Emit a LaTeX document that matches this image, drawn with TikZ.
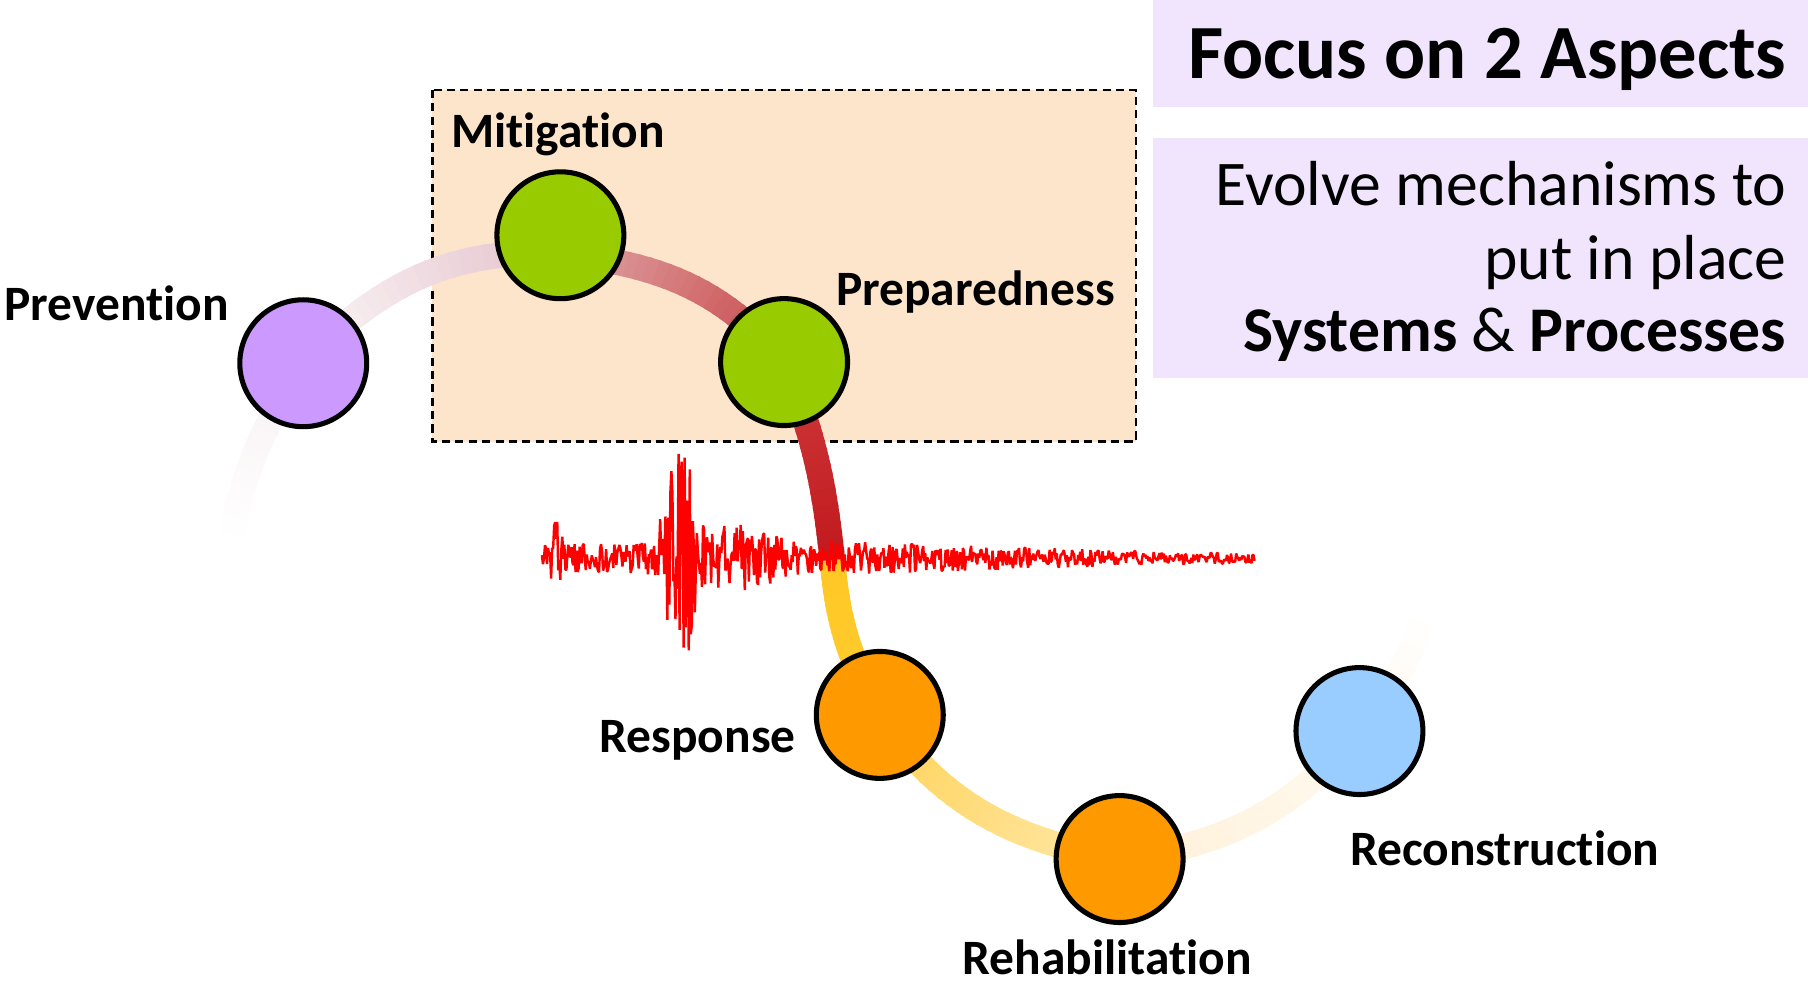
\documentclass[tikz,border=0pt]{standalone}
\usepackage{fontspec}
\setmainfont[Ligatures=NoCommon]{Carlito}
\usepackage{tikz}
\usetikzlibrary{backgrounds}
\definecolor{prevc}{HTML}{CC99FF}
\definecolor{greenc}{HTML}{99CC00}
\definecolor{orangec}{HTML}{FF9900}
\definecolor{bluec}{HTML}{99CCFF}
\definecolor{peach}{HTML}{FDE5CB}
\definecolor{lavender}{HTML}{F1E5FD}
% colours along the band
\definecolor{tailA}{HTML}{F8F0F2}
\definecolor{pinkA}{HTML}{FBF6F7}
\definecolor{pinkB}{HTML}{E5C4CE}
\definecolor{roseA}{HTML}{DFA3A6}
\definecolor{roseB}{HTML}{C94A4A}
\definecolor{redA}{HTML}{CC3A3A}
\definecolor{redB}{HTML}{C21A1F}
\definecolor{goldA}{HTML}{FFC825}
\definecolor{goldB}{HTML}{FFCB2E}
\definecolor{sandA}{HTML}{FFD35B}
\definecolor{sandB}{HTML}{FFE7A6}
\definecolor{creamA}{HTML}{FFF1D9}
\definecolor{creamB}{HTML}{FFF9EF}
\tikzset{phase/.style={draw, circle, line width=1.25pt,
                       minimum size=1.1cm, inner sep=0pt}}
\tikzset{tag/.style={font=\bfseries\fontsize{12.2}{15}\selectfont,
                     inner sep=0pt, anchor=base}}

\begin{document}
\begin{tikzpicture}[x=0.01cm, y=0.01cm,
      % styles for clarity
      band/.style     ={line width=6.3pt, shorten <=-0.4pt, shorten >=-0.4pt},
      aim/.style      ={font=\fontsize{15.7}{19}\selectfont, inner sep=0pt, anchor=base east},
      focusbox/.style ={draw, dashed, dash pattern=on 2pt off 1.3pt, line width=0.6pt, fill=peach},
      declare function={quakeamp(\x)=5+12*max(0,1-abs(\x-650)/380)
                        +95*max(0,1-abs(\x-590)/22)+28*max(0,1-abs(\x-482)/8)
                        +15*max(0,1-abs(\x-640)/50);}
    ]
    \useasboundingbox (0,0) rectangle (1568,-853);

    % boxes on the right
    \fill[lavender] (1000,0) rectangle (1568,-93);
    \fill[lavender] (1000,-120) rectangle (1568,-328);
    \node[font=\bfseries\fontsize{18.9}{23}\selectfont, inner sep=0pt, anchor=base east]
      (focus) at (1550,-68) {Focus on 2 Aspects};
    \node[aim] (aim1) at (1550,-178) {Evolve mechanisms to};
    \node[aim] (aim2) at (1550,-242) {put in place};
    \node[aim] (aim3) at (1550,-305) {\textbf{Systems} \& \textbf{Processes}};

    % phases of the cycle
    \node[phase, fill=prevc]   (prev)  at (263,-315) {};
    \node[phase, fill=greenc]  (miti)  at (486,-204) {};
    \node[phase, fill=greenc]  (prep)  at (680,-314) {};
    \node[phase, fill=orangec] (resp)  at (763,-620) {};
    \node[phase, fill=orangec] (rehab) at (971,-745) {};
    \node[phase, fill=bluec]   (recon) at (1179,-634) {};
    \coordinate (tail)  at (200,-470);
    \coordinate (mitiT) at ([yshift=-0.16cm]miti.center);
    \coordinate (quake) at (722,-487);
    \coordinate (head)  at (1237,-528);

    \node[tag] (prevtxt)  at (101,-278)  {Prevention};
    \node[tag] (mititxt)  at (484,-128)  {Mitigation};
    \node[tag] (preptxt)  at (846,-265)  {Preparedness};
    \node[tag] (resptxt)  at (605,-653)  {Response};
    \node[tag] (rehabtxt) at (960,-845)  {Rehabilitation};
    \node[tag] (recontxt) at (1305,-751) {Reconstruction};

    \begin{pgfonlayer}{background}
      \draw[focusbox] (375,-78) rectangle (985,-383);
      % band between phases, colour blended piece by piece
      \foreach \a/\b/\ta/\tb/\ca/\cb [count=\s, evaluate=\tb as \tin using \tb+180] in {
          tail/prev.center/80/58/white/tailA,
          prev.center/mitiT/46/-3/pinkA/pinkB,
          mitiT/prep.center/-6/-50/roseA/roseB,
          prep.center/quake/-68/-84/redA/redB,
          quake/resp.center/-85/-62/goldA/goldB,
          resp.center/rehab.center/-55/-10/sandA/sandB,
          rehab.center/recon.center/8/50/creamA/creamB,
          recon.center/head/52/72/creamB/white}{
        \foreach \k in {0,...,24}{
          \pgfmathsetmacro{\tt}{\k/24}
          \path (\a) to[out=\ta, in=\tin] coordinate[pos=\tt] (p\s-\k) (\b);
        }
        \foreach \k in {0,...,23}{
          \pgfmathtruncatemacro{\j}{\k+1}
          \pgfmathtruncatemacro{\p}{100*\k/23}
          \colorlet{segc}{\cb!\p!\ca}
          \draw[band, segc] (p\s-\k) -- (p\s-\j);
        }
      }
    \end{pgfonlayer}

    % seismic trace
    \pgfmathsetseed{7}
    \draw[red, line width=0.6pt, line join=bevel]
      plot[domain=470:1088, samples=700, variable=\x] (\x, {-484+quakeamp(\x)*rand});
  \end{tikzpicture}
\end{document}
